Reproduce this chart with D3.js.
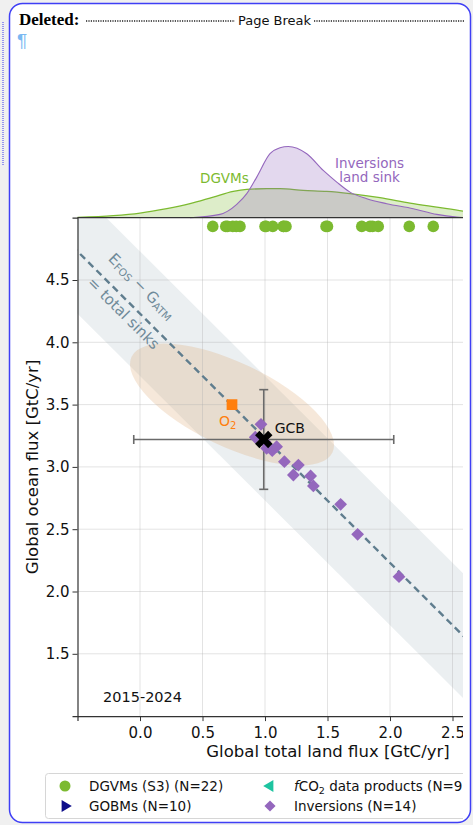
<!DOCTYPE html>
<html>
<head>
<meta charset="utf-8">
<script src="https://cdn.jsdelivr.net/npm/d3@7"></script>
<style>
    body { margin: 0; background: #f0f0f0; }
    svg { display: block; font-family: "DejaVu Sans", sans-serif; }
</style>
</head>
<body>
<div class="chart"><svg></svg></div>
<script>
// land sink of the DGVMs (S3), GtC/yr (some overlap, two are beyond the cropped edge)
var dgvmLand = [0.582, 0.686, 0.70, 0.742, 0.77, 0.80, 1.0, 1.01, 1.062, 1.146, 1.15, 1.168,
    1.488, 1.50, 1.774, 1.84, 1.86, 1.906, 2.154, 2.346, 2.8, 3.1];
var dgvmRowY = 4.93;

// inversions: land flux / ocean flux
var invLand  = [0.968, 0.922, 1.013, 1.058, 1.093, 1.155, 1.267, 1.227, 1.365, 1.387, 1.605, 1.741, 2.072, 1.00];
var invOcean = [3.342, 3.238, 3.149, 3.13, 3.162, 3.042, 3.015, 2.935, 2.927, 2.847, 2.70, 2.459, 2.119, 3.20];

// density curves shown above the axes (land flux, relative density)
var dgvmDensX = [-0.5, -0.214, 0.0, 0.214, 0.40, 0.586, 0.746, 0.854, 1.014, 1.12, 1.306, 1.494, 1.68, 1.92, 2.16, 2.374, 2.586, 2.75];
var dgvmDensY = [0.004, 0.027, 0.061, 0.12, 0.187, 0.275, 0.35, 0.377, 0.387, 0.387, 0.364, 0.35, 0.32, 0.267, 0.195, 0.141, 0.088, 0.06];
var invDensX = [0.40, 0.64, 0.774, 0.854, 0.934, 1.04, 1.12, 1.186, 1.334, 1.466, 1.574, 1.68, 1.814, 1.974, 2.186, 2.374, 2.534, 2.6];
var invDensY = [0.0, 0.044, 0.177, 0.32, 0.541, 0.853, 0.933, 0.95, 0.853, 0.63, 0.475, 0.341, 0.253, 0.187, 0.12, 0.044, 0.008, 0.0];

// GCB estimate with uncertainty
var gcb = {land: 0.99, ocean: 3.22, landErr: 1.04, oceanErr: 0.40};
// atmospheric O2 estimate and its uncertainty ellipse
var o2 = {land: 0.736, ocean: 3.50, semiMajor: 0.89, semiMinor: 0.335, angle: -25.5};
// E_FOS - G_ATM = total sinks, with +/- band
var totalSink = 4.23;
var totalSinkErr = 0.5;

var xTicks = [0.0, 0.5, 1.0, 1.5, 2.0, 2.5];
var yTicks = [1.5, 2.0, 2.5, 3.0, 3.5, 4.0, 4.5];

var legendItems = [
    {label: "DGVMs (S3) (N=22)", symbol: "circle", color: "#7cba30"},
    {label: "fCO2 data products (N=9)", symbol: "triLeft", color: "#1ec4a0"},
    {label: "GOBMs (N=10)", symbol: "triRight", color: "#0d0d8a"},
    {label: "Inversions (N=14)", symbol: "diamond", color: "#9467bd"}
];

var green = "#7cba30";
var purple = "#9467bd";
var slate = "#5f7d8e";

var W = 473, H = 825;
var svg = d3.select(".chart svg").attr("width", W).attr("height", H);

// page frame (tracked changes box)
svg.append("rect").attr("width", W).attr("height", H).attr("fill", "#f0f0f0");
svg.append("line")
    .attr("x1", 3).attr("x2", 3).attr("y1", 22).attr("y2", 165)
    .attr("stroke", "#3b3bf0").attr("stroke-width", 1).attr("stroke-dasharray", "1,1");
svg.append("rect")
    .attr("x", 9.5).attr("y", 3.5).attr("width", 461).attr("height", 819)
    .attr("rx", 13).attr("fill", "#fff")
    .attr("stroke", "#3f3ff5").attr("stroke-width", 1.5);

svg.append("text").attr("x", 19).attr("y", 25)
    .style("font-family", "'Liberation Serif', serif").style("font-weight", "bold").style("font-size", "17px")
    .text("Deleted:");
svg.append("line").attr("x1", 86).attr("x2", 235).attr("y1", 21).attr("y2", 21)
    .attr("stroke", "#222").attr("stroke-width", 1.4).attr("stroke-dasharray", "1.2,1.2");
svg.append("line").attr("x1", 314).attr("x2", 465).attr("y1", 21).attr("y2", 21)
    .attr("stroke", "#222").attr("stroke-width", 1.4).attr("stroke-dasharray", "1.2,1.2");
svg.append("text").attr("x", 274.5).attr("y", 25).attr("text-anchor", "middle")
    .style("font-size", "13px").attr("fill", "#111").text("Page Break");
svg.append("text").attr("x", 17).attr("y", 47)
    .style("font-family", "'Liberation Sans', sans-serif").style("font-size", "19px")
    .attr("fill", "#7ab8f2").text("\u00b6");

// the figure is cropped on its right side
svg.append("clipPath").attr("id", "crop")
    .append("rect").attr("x", 0).attr("y", 0).attr("width", 463).attr("height", H);
svg.append("clipPath").attr("id", "plotArea")
    .append("rect").attr("x", 77.5).attr("y", 217.7).attr("width", 385.5).attr("height", 498.4);

var fig = svg.append("g").attr("clip-path", "url(#crop)");

//Scale
var xScale = d3.scaleLinear().domain([-0.5, 2.6]).range([77.5, 465]);
var yScale = d3.scaleLinear().domain([1.0, 5.0]).range([716.1, 217.7]);
var densScale = d3.scaleLinear().domain([0, 1]).range([217.7, 142.7]);

var plot = fig.append("g").attr("clip-path", "url(#plotArea)");

// total sinks band
var bx = [-1, 3];
plot.append("path")
    .attr("d", d3.line()([
        [xScale(bx[0]), yScale(totalSink + totalSinkErr - bx[0])],
        [xScale(bx[1]), yScale(totalSink + totalSinkErr - bx[1])],
        [xScale(bx[1]), yScale(totalSink - totalSinkErr - bx[1])],
        [xScale(bx[0]), yScale(totalSink - totalSinkErr - bx[0])]
    ]) + "Z")
    .attr("fill", "#5b7a8e").attr("fill-opacity", 0.12);

// O2 ellipse
var pxPerUnit = xScale(1) - xScale(0);
plot.append("ellipse")
    .attr("transform", "translate(" + xScale(o2.land) + "," + yScale(o2.ocean) + ") rotate(" + (-o2.angle) + ")")
    .attr("rx", o2.semiMajor * pxPerUnit)
    .attr("ry", o2.semiMinor * pxPerUnit)
    .attr("fill", "#dba46c").attr("fill-opacity", 0.25);

// grid
plot.selectAll(".gx").data(xTicks).enter().append("line")
    .attr("x1", function(d){ return xScale(d); }).attr("x2", function(d){ return xScale(d); })
    .attr("y1", 217.7).attr("y2", 716.1)
    .attr("stroke", "#b0b0b0").attr("stroke-opacity", 0.35).attr("stroke-width", 1);
plot.selectAll(".gy").data(yTicks).enter().append("line")
    .attr("x1", 77.5).attr("x2", 465)
    .attr("y1", function(d){ return yScale(d); }).attr("y2", function(d){ return yScale(d); })
    .attr("stroke", "#b0b0b0").attr("stroke-opacity", 0.35).attr("stroke-width", 1);

// dashed 1:1 line
plot.append("line")
    .attr("x1", xScale(bx[0])).attr("y1", yScale(totalSink - bx[0]))
    .attr("x2", xScale(bx[1])).attr("y2", yScale(totalSink - bx[1]))
    .attr("stroke", slate).attr("stroke-width", 2.4).attr("stroke-dasharray", "7,4.5");

var lab1 = plot.append("text")
    .attr("transform", "translate(138,290) rotate(45)")
    .attr("text-anchor", "middle").attr("fill", "#6f8a99").style("font-size", "15px");
lab1.append("tspan").text("E");
lab1.append("tspan").attr("dy", 2).style("font-size", "10.5px").text("FOS");
lab1.append("tspan").attr("dy", -2).text(" \u2212 G");
lab1.append("tspan").attr("dy", 2).style("font-size", "10.5px").text("ATM");
plot.append("text")
    .attr("transform", "translate(120,317) rotate(45)")
    .attr("text-anchor", "middle").attr("fill", "#6f8a99").style("font-size", "15px")
    .text("= total sinks");

// GCB error bars
var errColor = "#6a6a6a";
var gx = xScale(gcb.land), gy = yScale(gcb.ocean);
plot.append("line").attr("x1", xScale(gcb.land - gcb.landErr)).attr("x2", xScale(gcb.land + gcb.landErr))
    .attr("y1", gy).attr("y2", gy).attr("stroke", errColor).attr("stroke-width", 1.6);
plot.append("line").attr("x1", gx).attr("x2", gx)
    .attr("y1", yScale(gcb.ocean + gcb.oceanErr)).attr("y2", yScale(gcb.ocean - gcb.oceanErr))
    .attr("stroke", errColor).attr("stroke-width", 1.6);
[gcb.land - gcb.landErr, gcb.land + gcb.landErr].forEach(function(v){
    plot.append("line").attr("x1", xScale(v)).attr("x2", xScale(v)).attr("y1", gy - 4.5).attr("y2", gy + 4.5)
        .attr("stroke", errColor).attr("stroke-width", 1.6);
});
[gcb.ocean - gcb.oceanErr, gcb.ocean + gcb.oceanErr].forEach(function(v){
    plot.append("line").attr("x1", gx - 4.5).attr("x2", gx + 4.5).attr("y1", yScale(v)).attr("y2", yScale(v))
        .attr("stroke", errColor).attr("stroke-width", 1.6);
});

// O2 point
plot.append("path")
    .attr("d", d3.symbol().type(d3.symbolSquare).size(115)())
    .attr("transform", "translate(" + xScale(o2.land) + "," + yScale(o2.ocean) + ")")
    .attr("fill", "#ff7f0e");
var o2lab = plot.append("text")
    .attr("x", xScale(o2.land) - 13).attr("y", yScale(o2.ocean) + 21)
    .attr("fill", "#ff7f0e").style("font-size", "14px");
o2lab.append("tspan").text("O");
o2lab.append("tspan").attr("dy", 3).style("font-size", "10px").text("2");

// inversions
plot.selectAll(".inv").data(invLand).enter().append("path")
    .attr("class", "inv")
    .attr("d", d3.symbol().type(d3.symbolSquare).size(82)())
    .attr("transform", function(d, i){ return "translate(" + xScale(d) + "," + yScale(invOcean[i]) + ") rotate(45)"; })
    .attr("fill", purple);

// GCB marker
plot.append("path")
    .attr("d", d3.symbol().type(d3.symbolCross).size(190)())
    .attr("transform", "translate(" + gx + "," + gy + ") rotate(45)")
    .attr("fill", "#000");
plot.append("text").attr("x", gx + 11).attr("y", gy - 6)
    .style("font-size", "14px").attr("fill", "#111").text("GCB");

// DGVMs along the top
plot.selectAll(".dgvm").data(dgvmLand).enter().append("circle")
    .attr("cx", function(d){ return xScale(d); })
    .attr("cy", yScale(dgvmRowY))
    .attr("r", 5.8)
    .attr("fill", green);

plot.append("text").attr("x", 103).attr("y", 701.5)
    .style("font-size", "14.5px").attr("fill", "#111").text("2015-2024");

// densities above the axes
var densArea = d3.area().curve(d3.curveMonotoneX)
    .x(function(d){ return xScale(d[0]); })
    .y0(densScale(0))
    .y1(function(d){ return densScale(d[1]); });
var densLine = d3.line().curve(d3.curveMonotoneX)
    .x(function(d){ return xScale(d[0]); })
    .y(function(d){ return densScale(d[1]); });
var dgvmDens = dgvmDensX.map(function(d, i){ return [d, dgvmDensY[i]]; });
var invDens = invDensX.map(function(d, i){ return [d, invDensY[i]]; });

fig.append("path").attr("d", densArea(dgvmDens)).attr("fill", green).attr("fill-opacity", 0.26);
fig.append("path").attr("d", densLine(dgvmDens)).attr("fill", "none").attr("stroke", green).attr("stroke-width", 1.3);
fig.append("path").attr("d", densArea(invDens)).attr("fill", purple).attr("fill-opacity", 0.26);
fig.append("path").attr("d", densLine(invDens)).attr("fill", "none").attr("stroke", purple).attr("stroke-width", 1.1);

fig.append("text").attr("x", 200).attr("y", 182.5)
    .style("font-size", "13.5px").attr("fill", green).text("DGVMs");
fig.append("text").attr("x", 369.5).attr("y", 167.5).attr("text-anchor", "middle")
    .style("font-size", "13.5px").attr("fill", purple).text("Inversions");
fig.append("text").attr("x", 369.5).attr("y", 182).attr("text-anchor", "middle")
    .style("font-size", "13.5px").attr("fill", purple).text("land sink");

//Axis
var xAxis = d3.axisBottom(xScale).tickValues(xTicks).tickFormat(d3.format(".1f")).tickSizeOuter(0).tickSize(5);
var yAxis = d3.axisLeft(yScale).tickValues(yTicks).tickFormat(d3.format(".1f")).tickSizeOuter(0).tickSize(5);

var gxAxis = fig.append("g").attr("transform", "translate(0,716.1)").call(xAxis);
var gyAxis = fig.append("g").attr("transform", "translate(77.5,0)").call(yAxis);
[gxAxis, gyAxis].forEach(function(g){
    g.select(".domain").attr("stroke", "#333").attr("stroke-width", 1.2);
    g.selectAll(".tick line").attr("stroke", "#333");
    g.selectAll(".tick text").style("font-size", "15px").style("font-family", "'DejaVu Sans', sans-serif").attr("fill", "#111");
});
gxAxis.selectAll(".tick text").attr("dy", "0.95em");
gyAxis.selectAll(".tick text").attr("x", -8);

// top spine of the axes
fig.append("line").attr("x1", 77.5).attr("x2", 465).attr("y1", 217.7).attr("y2", 217.7)
    .attr("stroke", "#333").attr("stroke-width", 1.2);

fig.append("text").attr("x", 328).attr("y", 757)
    .attr("text-anchor", "middle").style("font-size", "16.5px").attr("fill", "#111")
    .text("Global total land flux [GtC/yr]");
fig.append("text").attr("transform", "translate(38,467) rotate(-90)")
    .attr("text-anchor", "middle").style("font-size", "16.5px").attr("fill", "#111")
    .text("Global ocean flux [GtC/yr]");

// legend
var legend = fig.append("g");
legend.append("rect").attr("x", 45.5).attr("y", 773.5).attr("width", 440).attr("height", 45)
    .attr("rx", 3).attr("fill", "#fff").attr("stroke", "#d6d6d6");

var symbols = {
    circle: d3.symbol().type(d3.symbolCircle).size(95)(),
    diamond: d3.symbol().type(d3.symbolSquare).size(62)(),
    triLeft: d3.symbol().type(d3.symbolTriangle).size(60)(),
    triRight: d3.symbol().type(d3.symbolTriangle).size(60)()
};
var rot = {circle: 0, diamond: 45, triLeft: -90, triRight: 90};

legendItems.forEach(function(d, i){
    var col = i % 2, row = Math.floor(i / 2);
    var mx = col === 0 ? 65 : 270;
    var my = row === 0 ? 786 : 806;
    legend.append("path").attr("d", symbols[d.symbol])
        .attr("transform", "translate(" + mx + "," + my + ") rotate(" + rot[d.symbol] + ")")
        .attr("fill", d.color);
    var t = legend.append("text").attr("x", mx + 24).attr("y", my + 5)
        .style("font-size", "13.5px").attr("fill", "#111");
    if (d.symbol === "triLeft") {
        t.append("tspan").style("font-style", "italic").text("f");
        t.append("tspan").text("CO");
        t.append("tspan").attr("dy", 3).style("font-size", "9.5px").text("2");
        t.append("tspan").attr("dy", -3).text(" data products (N=9)");
    } else {
        t.text(d.label);
    }
});
</script>
</body>
</html>
